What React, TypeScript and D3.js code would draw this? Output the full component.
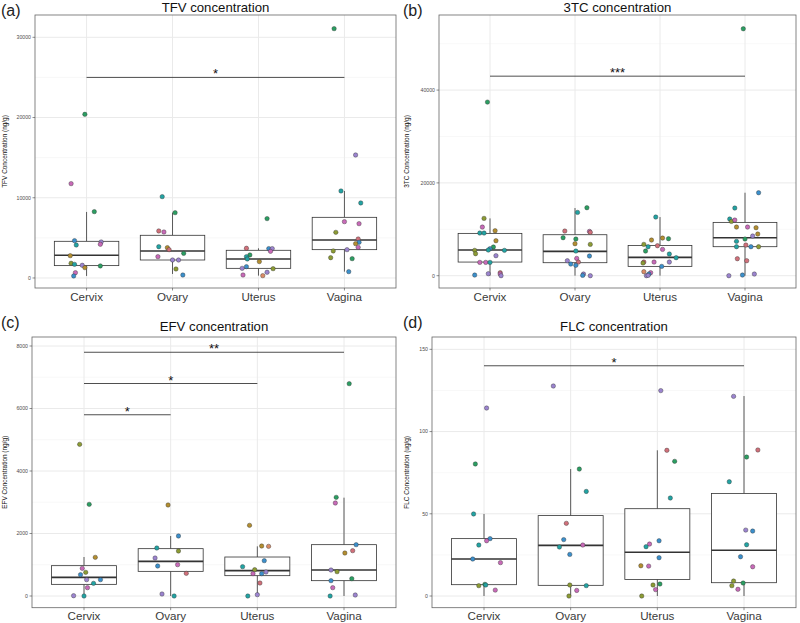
import React from "react";
import * as d3 from "d3";

const CATEGORIES = ["Cervix", "Ovary", "Uterus", "Vagina"];

const PALETTE: Record<string, string> = {
  r: "#D0707A",
  m: "#C86AB8",
  p: "#9B84CF",
  b: "#3B8FCB",
  t: "#22A3A3",
  g: "#2B9E62",
  l: "#8C9B34",
  o: "#B38E30",
  s: "#D98B66",
};

// ---------- TFV ----------
const TFV_VALUES = [
  [20400, 11760, 8270, 4650, 4110, 4490, 4200, 2780, 1830, 1700, 1580, 1290, 1500, 660, 250],
  [10140, 8140, 5860, 5730, 3900, 3780, 3530, 3070, 2660, 2240, 2240, 1120, 370],
  [7400, 3700, 3660, 3660, 3320, 2870, 2660, 2370, 2040, 1410, 1200, 1160, 710, 370, 290],
  [31080, 15330, 10845, 9350, 7020, 6770, 5690, 4860, 4450, 4280, 3820, 3530, 3370, 2530, 2410, 790],
];
const TFV_JITTER = [
  [-0.02, -0.18, 0.09, -0.14, -0.12, 0.17, 0.16, -0.19, -0.18, -0.14, -0.05, -0.02, 0.16, -0.13, -0.15],
  [-0.12, 0.03, -0.16, -0.1, -0.16, -0.06, -0.04, 0.13, -0.17, 0.0, 0.07, 0.04, 0.12],
  [0.1, -0.14, 0.12, 0.16, 0.14, -0.1, -0.14, -0.13, 0.01, -0.14, -0.19, 0.17, 0.1, -0.18, 0.05],
  [-0.12, 0.13, -0.04, 0.19, 0.0, 0.17, -0.1, 0.16, 0.17, 0.13, 0.16, 0.03, -0.13, -0.16, 0.09, 0.05],
];
const TFV_COLORS = [
  ["g", "m", "g", "b", "t", "p", "m", "o", "l", "t", "p", "o", "g", "m", "b"],
  ["t", "g", "r", "m", "t", "o", "r", "g", "m", "p", "p", "l", "b"],
  ["g", "r", "b", "p", "m", "g", "t", "t", "o", "b", "p", "l", "p", "m", "s"],
  ["g", "p", "t", "t", "m", "m", "l", "r", "b", "o", "m", "p", "l", "l", "g", "b"],
];
// q1, median, q3, whisker low, whisker high
const TFV_BOX = [
  [1540, 2830, 4570, 250, 8230],
  [2240, 3370, 5320, 500, 8140],
  [1200, 2370, 3450, 290, 3700],
  [3530, 4740, 7560, 790, 10845],
];
const TFV_SIG: [number, number, number, string][] = [[0, 3, 25000, "*"]];
const TFV_TICKS = [0, 10000, 20000, 30000];
const TFV_MINOR = [5000, 15000, 25000];
const TFV_DOMAIN = [-1250, 32780];

// ---------- 3TC ----------
const TC_VALUES = [
  [37410, 12350, 10480, 9690, 9190, 9190, 7540, 6180, 5820, 5530, 5460, 5460, 4740, 4310, 2870, 2870, 2870, 650, 360, 430, 140, 0],
  [14650, 13640, 9620, 9550, 9340, 8190, 7900, 6890, 6750, 5310, 4240, 3730, 3230, 2940, 2510, 2230, 360, 70, 0],
  [12640, 7970, 8110, 7680, 6750, 6460, 6250, 5670, 5310, 4670, 3880, 2940, 2940, 2940, 2730, 2010, 860, 650, 360, 0, 70],
  [53210, 17880, 14580, 12210, 11700, 11990, 10480, 10480, 10340, 8980, 8550, 7900, 7400, 6610, 6250, 6250, 6250, 3660, 3230, 0, 140, 360],
];
const TC_JITTER = [
  [-0.03, -0.07, -0.09, 0.06, -0.12, -0.07, 0.07, 0.04, 0.0, -0.02, -0.18, 0.17, -0.17, 0.07, -0.12, -0.05, 0.0, 0.12, 0.12, -0.02, -0.18, 0.13],
  [0.14, 0.03, -0.12, 0.17, 0.18, -0.14, 0.01, 0.0, 0.18, 0.01, 0.17, 0.02, -0.09, 0.04, -0.05, 0.01, 0.1, 0.09, 0.18],
  [-0.05, 0.1, 0.03, -0.1, -0.19, -0.03, -0.14, 0.03, -0.17, 0.11, 0.19, -0.19, -0.07, 0.11, -0.2, 0.02, -0.19, -0.11, -0.13, -0.16, -0.14],
  [-0.02, 0.16, -0.12, -0.18, -0.16, -0.12, 0.03, -0.1, 0.13, 0.15, 0.09, 0.0, -0.1, 0.01, -0.1, 0.07, 0.16, -0.09, 0.02, -0.19, -0.03, 0.11],
];
const TC_COLORS = [
  ["g", "l", "m", "o", "t", "t", "o", "g", "b", "t", "l", "t", "l", "p", "m", "m", "t", "r", "m", "p", "b", "p"],
  ["g", "t", "r", "m", "r", "g", "g", "o", "l", "t", "b", "m", "p", "r", "b", "b", "p", "b", "p"],
  ["t", "g", "o", "o", "l", "r", "t", "m", "g", "t", "t", "r", "m", "p", "l", "b", "s", "m", "b", "p", "p"],
  ["g", "b", "t", "t", "l", "m", "m", "o", "o", "o", "p", "g", "t", "r", "t", "b", "l", "r", "r", "p", "b", "p"],
];
const TC_BOX = [
  [2940, 5530, 9120, 0, 12350],
  [2800, 5240, 8830, 0, 14580],
  [2010, 3950, 6530, 0, 12640],
  [6250, 8190, 11490, 0, 17880],
];
const TC_SIG: [number, number, number, string][] = [[0, 3, 43000, "***"]];
const TC_TICKS = [0, 20000, 40000];
const TC_MINOR = [10000, 30000, 50000];
const TC_DOMAIN = [-2650, 56180];

// ---------- EFV ----------
const EFV_VALUES = [
  [4853, 2933, 1237, 885, 757, 683, 523, 523, 405, 267, 10, 0],
  [2912, 1920, 1536, 1440, 1216, 960, 1003, 725, 64, 0],
  [2261, 1600, 1589, 1131, 939, 843, 768, 715, 715, 416, 43, 0],
  [6795, 3157, 2976, 1643, 1451, 1376, 832, 779, 555, 491, 267, 32, 0],
];
const EFV_JITTER = [
  [-0.05, 0.06, 0.13, -0.02, 0.02, -0.04, 0.03, 0.19, 0.11, 0.04, -0.12, 0.0],
  [-0.03, 0.09, -0.16, 0.09, -0.18, -0.15, 0.08, 0.18, -0.1, 0.04],
  [-0.09, 0.05, 0.13, 0.08, -0.17, -0.03, 0.1, -0.05, 0.05, 0.03, 0.0, -0.11],
  [0.06, -0.09, -0.1, 0.14, 0.1, 0.01, -0.15, -0.08, 0.09, -0.15, -0.13, 0.13, -0.16],
];
const EFV_COLORS = [
  ["l", "g", "o", "m", "l", "b", "p", "b", "t", "m", "p", "t"],
  ["o", "b", "t", "l", "p", "b", "m", "r", "p", "t"],
  ["o", "o", "s", "b", "t", "l", "p", "m", "b", "r", "p", "t"],
  ["g", "g", "m", "b", "r", "o", "p", "l", "g", "b", "m", "p", "t"],
];
const EFV_BOX = [
  [373, 597, 971, 0, 1248],
  [789, 1109, 1515, 0, 1920],
  [651, 811, 1248, 0, 1589],
  [491, 832, 1643, 0, 3147],
];
const EFV_SIG: [number, number, number, string][] = [
  [0, 1, 5800, "*"],
  [0, 2, 6800, "*"],
  [0, 3, 7800, "**"],
];
const EFV_TICKS = [0, 2000, 4000, 6000, 8000];
const EFV_MINOR = [1000, 3000, 5000, 7000];
const EFV_DOMAIN = [-374, 8288];

// ---------- FLC ----------
const FLC_VALUES = [
  [114.3, 80.3, 49.9, 34.9, 33.6, 31.0, 22.5, 20.3, 7.1, 6.7, 6.3, 3.6],
  [127.7, 77.2, 63.6, 44.2, 34.3, 31.0, 29.8, 25.3, 6.7, 6.3, 3.4, 0],
  [124.9, 88.6, 81.9, 59.6, 33.6, 31.6, 30.0, 23.3, 18.4, 18.2, 7.3, 6.7, 3.9, 0],
  [121.4, 88.8, 84.5, 69.5, 40.1, 39.5, 31.2, 23.9, 17.8, 9.1, 6.3, 7.9, 4.1],
];
const FLC_JITTER = [
  [0.03, -0.1, -0.12, 0.07, 0.03, -0.06, -0.13, 0.19, 0.01, 0.02, -0.06, 0.13],
  [-0.2, 0.1, 0.18, -0.05, -0.08, 0.14, -0.13, -0.01, -0.01, 0.18, 0.07, -0.02],
  [0.04, 0.11, 0.2, 0.15, 0.02, -0.09, -0.13, 0.02, -0.19, -0.1, 0.03, -0.05, -0.02, -0.18],
  [-0.12, 0.16, 0.03, -0.17, 0.02, 0.1, 0.03, -0.04, 0.1, -0.12, -0.14, -0.01, -0.07],
];
const FLC_COLORS = [
  ["p", "g", "t", "b", "m", "t", "b", "m", "g", "t", "l", "m"],
  ["p", "g", "t", "r", "b", "m", "t", "b", "l", "t", "m", "l"],
  ["p", "r", "g", "t", "b", "m", "t", "b", "o", "m", "g", "l", "m", "l"],
  ["p", "r", "g", "t", "p", "b", "t", "b", "m", "l", "l", "g", "m"],
];
const FLC_BOX = [
  [6.9, 22.5, 34.9, 0, 49.9],
  [6.5, 30.8, 48.9, 0, 77.2],
  [10.1, 26.6, 53.1, 0, 88.6],
  [8.1, 27.8, 62.4, 0, 121.6],
];
const FLC_SIG: [number, number, number, string][] = [[0, 3, 140, "*"]];
const FLC_TICKS = [0, 50, 100, 150];
const FLC_MINOR = [25, 75, 125];
const FLC_DOMAIN = [-7.1, 157.5];

const FONT = "'Liberation Sans', Arial, sans-serif";

type PanelProps = {
  tag: string;
  title: string;
  yLabel: string;
  left: number;
  right: number;
  top: number;
  bottom: number;
  ox: number;
  values: number[][];
  jitter: number[][];
  colors: string[][];
  box: number[][];
  sig: [number, number, number, string][];
  ticks: number[];
  minor: number[];
  domain: number[];
};

function Panel(p: PanelProps) {
  const n = CATEGORIES.length;
  const x = d3
    .scaleLinear()
    .domain([-0.6, n - 1 + 0.6])
    .range([p.left, p.right]);
  const y = d3.scaleLinear().domain(p.domain).range([p.bottom, p.top]);
  const bw = 0.75 / 2;
  const grey = "#333333";
  return (
    <g>
      <text
        x={p.ox + 1}
        y={Math.max(p.top - 9, 16)}
        fontFamily={FONT}
        fontSize={16}
        fill="#222"
      >
        {p.tag}
      </text>
      <text
        x={(p.left + p.right) / 2}
        y={Math.max(p.top - 6.3, 11.5)}
        textAnchor="middle"
        fontFamily={FONT}
        fontSize={13.2}
        fill="#111"
      >
        {p.title}
      </text>
      <rect x={p.left} y={p.top} width={p.right - p.left} height={p.bottom - p.top} fill="white" />
      {p.minor.map((v) => (
        <line key={"mn" + v} x1={p.left} x2={p.right} y1={y(v)} y2={y(v)} stroke="#F3F3F3" strokeWidth={0.6} />
      ))}
      {p.ticks.map((v) => (
        <line key={"mj" + v} x1={p.left} x2={p.right} y1={y(v)} y2={y(v)} stroke="#EAEAEA" strokeWidth={1} />
      ))}
      {CATEGORIES.map((c, i) => (
        <line key={"vx" + c} x1={x(i)} x2={x(i)} y1={p.top} y2={p.bottom} stroke="#EAEAEA" strokeWidth={1} />
      ))}
      {p.box.map((b, i) => {
        const [q1, med, q3, lo, hi] = b;
        return (
          <g key={"box" + i}>
            <line x1={x(i)} x2={x(i)} y1={y(q3)} y2={y(hi)} stroke={grey} strokeWidth={0.8} />
            <line x1={x(i)} x2={x(i)} y1={y(q1)} y2={y(lo)} stroke={grey} strokeWidth={0.8} />
            <rect
              x={x(i - bw)}
              y={y(q3)}
              width={x(i + bw) - x(i - bw)}
              height={y(q1) - y(q3)}
              fill="white"
              stroke={grey}
              strokeWidth={0.8}
            />
            <line x1={x(i - bw)} x2={x(i + bw)} y1={y(med)} y2={y(med)} stroke={grey} strokeWidth={1.6} />
          </g>
        );
      })}
      {p.values.map((vals, i) =>
        vals.map((v, j) => (
          <circle
            key={"pt" + i + "_" + j}
            cx={x(i + p.jitter[i][j])}
            cy={y(v)}
            r={2.2}
            fill={PALETTE[p.colors[i][j]]}
            stroke="#333"
            strokeWidth={0.4}
          />
        ))
      )}
      {p.sig.map(([a, b, v, lab], k) => (
        <g key={"sig" + k}>
          <line x1={x(a)} x2={x(b)} y1={y(v)} y2={y(v)} stroke="#222" strokeWidth={0.8} />
          <text
            x={(x(a) + x(b)) / 2}
            y={y(v) + 1}
            textAnchor="middle"
            fontFamily={FONT}
            fontSize={13}
            fill="#111"
          >
            {lab}
          </text>
        </g>
      ))}
      <rect
        x={p.left}
        y={p.top}
        width={p.right - p.left}
        height={p.bottom - p.top}
        fill="none"
        stroke="#666"
        strokeWidth={0.8}
      />
      {p.ticks.map((v) => (
        <g key={"yt" + v}>
          <line x1={p.left - 2.5} x2={p.left} y1={y(v)} y2={y(v)} stroke="#444" strokeWidth={0.6} />
          <text
            x={p.left - 4}
            y={y(v) + 1.8}
            textAnchor="end"
            fontFamily={FONT}
            fontSize={5.2}
            fill="#4D4D4D"
          >
            {v}
          </text>
        </g>
      ))}
      {CATEGORIES.map((c, i) => (
        <g key={"xt" + c}>
          <line x1={x(i)} x2={x(i)} y1={p.bottom} y2={p.bottom + 2.5} stroke="#444" strokeWidth={0.6} />
          <text
            x={x(i)}
            y={p.bottom + 12.5}
            textAnchor="middle"
            fontFamily={FONT}
            fontSize={11.6}
            fill="#3A3A3A"
          >
            {c}
          </text>
        </g>
      ))}
      <text
        transform={`translate(${p.ox + 7},${(p.top + p.bottom) / 2}) rotate(-90)`}
        textAnchor="middle"
        fontFamily={FONT}
        fontSize={6.45}
        fill="#111"
      >
        {p.yLabel}
      </text>
    </g>
  );
}

export default function App() {
  return (
    <svg width={800} height={623} style={{ display: "block", position: "absolute", left: 0, top: 0 }}>
      <rect width={800} height={623} fill="white" />
      <Panel
        tag="(a)"
        title="TFV concentration"
        yLabel="TFV Concentration (ng/g)"
        left={35}
        right={396}
        top={15}
        bottom={288}
        ox={0}
        values={TFV_VALUES}
        jitter={TFV_JITTER}
        colors={TFV_COLORS}
        box={TFV_BOX}
        sig={TFV_SIG}
        ticks={TFV_TICKS}
        minor={TFV_MINOR}
        domain={TFV_DOMAIN}
      />
      <Panel
        tag="(b)"
        title="3TC concentration"
        yLabel="3TC Concentration (ng/g)"
        left={439}
        right={796}
        top={15}
        bottom={288}
        ox={402}
        values={TC_VALUES}
        jitter={TC_JITTER}
        colors={TC_COLORS}
        box={TC_BOX}
        sig={TC_SIG}
        ticks={TC_TICKS}
        minor={TC_MINOR}
        domain={TC_DOMAIN}
      />
      <Panel
        tag="(c)"
        title="EFV concentration"
        yLabel="EFV Concentration (ng/g)"
        left={32}
        right={396}
        top={337}
        bottom={607.7}
        ox={0}
        values={EFV_VALUES}
        jitter={EFV_JITTER}
        colors={EFV_COLORS}
        box={EFV_BOX}
        sig={EFV_SIG}
        ticks={EFV_TICKS}
        minor={EFV_MINOR}
        domain={EFV_DOMAIN}
      />
      <Panel
        tag="(d)"
        title="FLC concentration"
        yLabel="FLC Concentration (ug/g)"
        left={432}
        right={796}
        top={337}
        bottom={607.7}
        ox={402}
        values={FLC_VALUES}
        jitter={FLC_JITTER}
        colors={FLC_COLORS}
        box={FLC_BOX}
        sig={FLC_SIG}
        ticks={FLC_TICKS}
        minor={FLC_MINOR}
        domain={FLC_DOMAIN}
      />
    </svg>
  );
}
